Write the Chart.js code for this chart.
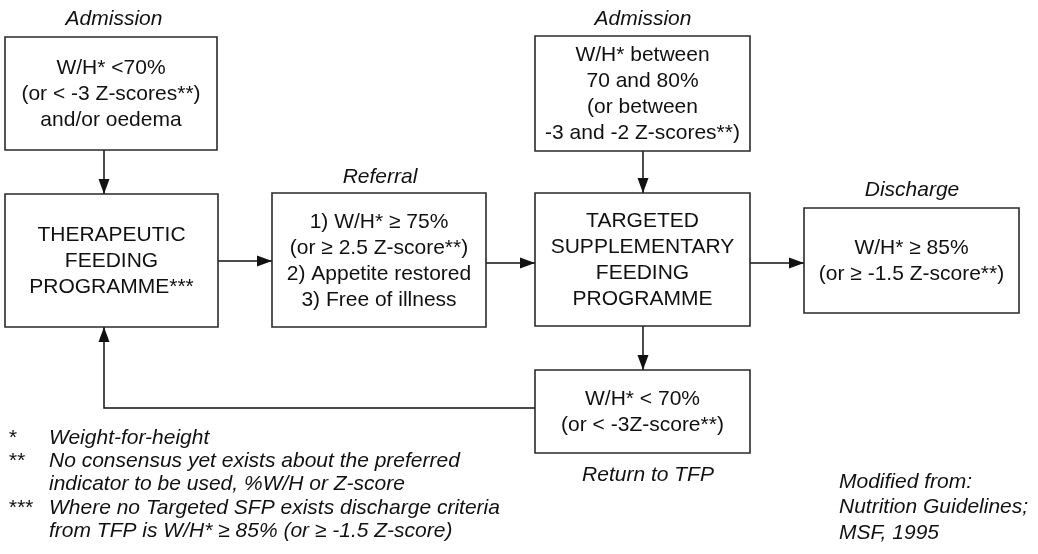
<!DOCTYPE html>
<html>
<head>
<meta charset="utf-8">
<script src="https://cdn.jsdelivr.net/npm/chart.js@4/dist/chart.umd.min.js"></script>
<style>
  html, body { margin: 0; padding: 0; background: #ffffff; }
  #wrap { width: 1038px; height: 554px; }
</style>
</head>
<body>
<div id="wrap"><canvas id="c" width="1038" height="554"></canvas></div>
<script>
// ---------- content ----------
const nodeText = [
  ["W/H* <70%", "(or < -3 Z-scores**)", "and/or oedema"],
  ["THERAPEUTIC", "FEEDING", "PROGRAMME***"],
  ["1) W/H* \u2265 75%", "(or \u2265 2.5 Z-score**)", "2) Appetite restored", "3) Free of illness"],
  ["W/H* between", "70 and 80%", "(or between", "-3 and -2 Z-scores**)"],
  ["TARGETED", "SUPPLEMENTARY", "FEEDING", "PROGRAMME"],
  ["W/H* \u2265 85%", "(or \u2265 -1.5 Z-score**)"],
  ["W/H* < 70%", "(or < -3Z-score**)"]
];
const stageLabels = ["Admission", "Referral", "Admission", "Discharge", "Return to TFP"];
const footnoteMarks = ["*", "**", "", "***", ""];
const footnoteLines = [
  "Weight-for-height",
  "No consensus yet exists about the preferred",
  "indicator to be used, %W/H or Z-score",
  "Where no Targeted SFP exists discharge criteria",
  "from TFP is W/H* \u2265 85% (or \u2265 -1.5 Z-score)"
];
const sourceLines = ["Modified from:", "Nutrition Guidelines;", "MSF, 1995"];

// ---------- layout (in scale units) ----------
const boxes = [
  [5, 37, 217, 150],
  [5, 194, 218, 327],
  [272, 193, 486, 327],
  [535, 36, 750, 151],
  [535, 193, 750, 326],
  [804, 208, 1019, 313],
  [535, 370, 750, 453]
];
const connectors = [
  [[104, 150], [104, 194]],
  [[218, 261], [272, 261]],
  [[486, 263], [535, 263]],
  [[643, 151], [643, 193]],
  [[750, 263], [804, 263]],
  [[643, 326], [643, 370]],
  [[535, 408], [104, 408], [104, 327]]
];
const stagePos = [[114, 19], [380, 177], [643, 19], [912, 190], [648, 475]];
const footMarkX = 8, footTextX = 49;
const footY = [438, 461, 484, 508, 531];
const sourceX = 839;
const sourceY = [482, 507, 533];
const lineGap = 26;

const FONT = '"Liberation Sans", Arial, Helvetica, sans-serif';
const INK = '#111111';

const datasets = [];
boxes.forEach(b => {
  datasets.push({
    data: [{x: b[0], y: b[1]}, {x: b[2], y: b[1]}, {x: b[2], y: b[3]}, {x: b[0], y: b[3]}, {x: b[0], y: b[1]}],
    showLine: true, pointRadius: 0, borderColor: '#2a2a2a', borderWidth: 1.6,
    borderJoinStyle: 'miter', borderCapStyle: 'square', tension: 0, fill: false
  });
});
connectors.forEach(c => {
  datasets.push({
    data: c.map(p => ({x: p[0], y: p[1]})),
    showLine: true, pointRadius: 0, borderColor: INK, borderWidth: 1.5,
    borderJoinStyle: 'miter', tension: 0, fill: false
  });
});

const annot = {
  id: 'annot',
  afterDatasetsDraw(chart) {
    const ctx = chart.ctx;
    const sx = v => chart.scales.x.getPixelForValue(v);
    const sy = v => chart.scales.y.getPixelForValue(v);
    ctx.save();
    // arrowheads
    ctx.fillStyle = INK;
    connectors.forEach(c => {
      const p1 = c[c.length - 2], p2 = c[c.length - 1];
      const x1 = sx(p1[0]), y1 = sy(p1[1]), x2 = sx(p2[0]), y2 = sy(p2[1]);
      const a = Math.atan2(y2 - y1, x2 - x1);
      const L = 15, W = 5.5;
      ctx.beginPath();
      ctx.moveTo(x2, y2);
      ctx.lineTo(x2 - L * Math.cos(a) + W * Math.sin(a), y2 - L * Math.sin(a) - W * Math.cos(a));
      ctx.lineTo(x2 - L * Math.cos(a) - W * Math.sin(a), y2 - L * Math.sin(a) + W * Math.cos(a));
      ctx.closePath();
      ctx.fill();
    });
    // box text
    ctx.fillStyle = INK;
    ctx.textAlign = 'center';
    ctx.textBaseline = 'middle';
    ctx.font = '21px ' + FONT;
    nodeText.forEach((lines, i) => {
      const b = boxes[i];
      const cx = sx((b[0] + b[2]) / 2);
      const cy = sy((b[1] + b[3]) / 2);
      const n = lines.length;
      lines.forEach((t, k) => {
        ctx.fillText(t, cx, cy + (k - (n - 1) / 2) * lineGap + 1);
      });
    });
    // stage labels
    ctx.font = 'italic 21px ' + FONT;
    stageLabels.forEach((t, i) => {
      ctx.fillText(t, sx(stagePos[i][0]), sy(stagePos[i][1]));
    });
    // footnotes
    ctx.textAlign = 'left';
    footnoteLines.forEach((t, i) => {
      ctx.font = 'italic 21px ' + FONT;
      ctx.fillText(t, sx(footTextX), sy(footY[i]));
      if (footnoteMarks[i]) {
        ctx.font = 'italic 21px ' + FONT;
        ctx.fillText(footnoteMarks[i], sx(footMarkX), sy(footY[i]));
      }
    });
    // source
    sourceLines.forEach((t, i) => {
      ctx.fillText(t, sx(sourceX), sy(sourceY[i]));
    });
    ctx.restore();
  }
};

new Chart(document.getElementById('c'), {
  type: 'scatter',
  data: { datasets },
  options: {
    responsive: false,
    animation: false,
    devicePixelRatio: 1,
    events: [],
    layout: { padding: 0 },
    plugins: { legend: { display: false }, tooltip: { enabled: false } },
    scales: {
      x: { type: 'linear', min: 0, max: 1038, display: false },
      y: { type: 'linear', min: 0, max: 554, reverse: true, display: false }
    }
  },
  plugins: [annot]
});
</script>
</body>
</html>
